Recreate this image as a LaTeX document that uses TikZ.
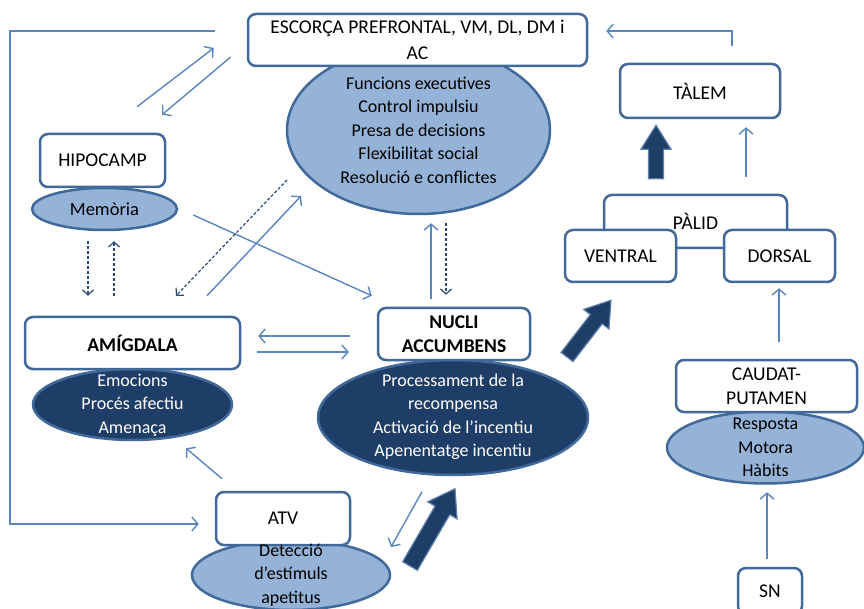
\documentclass[tikz,border=0pt]{standalone}
\usepackage{fontspec}
\setmainfont{Carlito}
\usetikzlibrary{shapes.geometric,arrows.meta,calc}
\definecolor{linec}{HTML}{5A86BF}
\definecolor{bordc}{HTML}{41699A}
\definecolor{lightc}{HTML}{95B3D7}
\definecolor{darkc}{HTML}{1F3E67}
\definecolor{dashc}{HTML}{2B4A78}
\newcommand\blockarr[5]{%
  \coordinate (bah) at ($(#2)!#5!(#1)$);
  \filldraw[fill=darkc, draw=bordc!85!white, line width=1.2pt, line join=miter]
    ($(#1)!#3!90:(#2)$) -- ($(bah)!#3!-90:(#1)$) -- ($(bah)!#4!-90:(#1)$) -- (#2)
    -- ($(bah)!#4!90:(#1)$) -- ($(bah)!#3!90:(#1)$) -- ($(#1)!#3!-90:(#2)$) -- cycle;}
\begin{document}
\begin{tikzpicture}[x=1pt,y=-1pt,
  font=\fontsize{18}{23.5}\selectfont,
  box/.style={draw=bordc, line width=2.5pt, fill=white, rounded corners=8pt, inner sep=0pt, align=center, font=\fontsize{19.5}{24}\selectfont},
  bbox/.style={box, font=\fontsize{19.5}{24}\selectfont\bfseries},
  lell/.style={ellipse, draw=bordc, line width=2.5pt, fill=lightc, inner sep=0pt},
  dell/.style={ellipse, draw=bordc, line width=2.5pt, fill=darkc, inner sep=0pt},
  ltxt/.style={align=center, inner sep=0pt, text=black},
  dtxt/.style={align=center, inner sep=0pt, text=white},
  arr/.style={draw=linec, line width=1.4pt, -{Straight Barb[length=6pt,width=14pt]}},
  darr/.style={draw=dashc, line width=1.2pt, dash pattern=on 3pt off 2pt, -{Straight Barb[length=5pt,width=11pt]}}]
\fill[white] (0,0) rectangle (864,609);
\useasboundingbox (0,0) rectangle (864,609);

% ellipses
\node[lell, minimum width=263pt, minimum height=168pt] (pfce) at (418.5,130) {};
\node[lell, minimum width=145pt, minimum height=42pt, font=\fontsize{18.5}{23.5}\selectfont] (mem) at (104.5,209) {Memòria};
\node[dell, minimum width=199pt, minimum height=71pt] (amge) at (132.5,404.5) {};
\node[dell, minimum width=270pt, minimum height=115pt] (nace) at (453,417.5) {};
\node[lell, minimum width=198pt, minimum height=70pt] (atve) at (291,575) {};
\node[lell, minimum width=197pt, minimum height=72pt] (cpe) at (765.5,447.5) {};

% boxes
\node[box, minimum width=339pt, minimum height=52pt, font=\fontsize{19.5}{26}\selectfont] (esc) at (417.5,40) {ESCORÇA PREFRONTAL, VM, DL, DM i\\AC};
\node[box, minimum width=160pt, minimum height=54pt] (talem) at (700,91) {TÀLEM};
\node[box, minimum width=183pt, minimum height=53pt] (pal) at (695.5,221.5) {PÀLID};
\node[box, minimum width=111pt, minimum height=52pt] (ven) at (620.5,256) {VENTRAL};
\node[box, minimum width=111pt, minimum height=52pt] (dors) at (779.5,256) {DORSAL};
\node[box, minimum width=181pt, minimum height=52pt] (caud) at (766.5,386) {CAUDAT-\\PUTAMEN};
\node[box, minimum width=64pt, minimum height=46pt] (sn) at (770,591) {SN};
\node[box, minimum width=125pt, minimum height=53pt] (hip) at (102.5,160.5) {HIPOCAMP};
\node[bbox, minimum width=215pt, minimum height=52pt] (amg) at (132.5,343) {AMÍGDALA};
\node[bbox, minimum width=152pt, minimum height=52pt] (nac) at (454,334) {NUCLI\\ACCUMBENS};
\node[box, minimum width=134pt, minimum height=53pt] (atv) at (283,518.5) {ATV};

% ellipse texts
\node[ltxt] (pfct) at (418.5,130) {Funcions executives\\Control impulsiu\\Presa de decisions\\Flexibilitat social\\Resolució e conflictes};
\node[dtxt] (amgt) at (132.5,405) {Emocions\\Procés afectiu\\Amenaça};
\node[dtxt] (nact) at (453,417) {Processament de la\\recompensa\\Activació de l’incentiu\\Apenentatge incentiu};
\node[ltxt] (atvt) at (291,575) {Detecció\\d’estímuls\\apetitus};
\node[ltxt] (cpt) at (765.5,447.5) {Resposta\\Motora\\Hàbits};

% connectors
\coordinate (lx) at (10,300);
\draw[arr] ([xshift=-32pt,yshift=9pt]esc.west) -| (lx) |- ([xshift=-16pt,yshift=-5.5pt]atv.west);
\draw[arr] ([xshift=32pt,yshift=17pt]talem.north) |- ([xshift=18pt,yshift=9pt]esc.east);
\draw[arr] ([xshift=50.5pt,yshift=17pt]pal.north) -- ([xshift=46pt,yshift=-8pt]talem.south);
\draw[arr] ([xshift=12.5pt,yshift=17pt]caud.north) -- ([xshift=-0.5pt,yshift=-5pt]dors.south);
\draw[arr] ([xshift=-3pt,yshift=8pt]sn.north) -- ([xshift=1.5pt,yshift=-7.5pt]cpe.south);

\draw[arr] ([xshift=34.5pt,yshift=26pt]hip.north) -- ([xshift=-33pt,yshift=-8pt]esc.west);
\draw[arr] ([xshift=-16pt,yshift=-17pt]esc.west) -- ([xshift=59.5pt,yshift=18pt]hip.north);
\draw[arr] ([xshift=15pt,yshift=-6pt]mem.east) -- ([xshift=-5pt,yshift=11pt]nac.north west);

\draw[darr] ([xshift=-16.5pt,yshift=-10pt]mem.south) -- ([xshift=-44.5pt,yshift=20pt]amg.north);
\draw[darr] ([xshift=-18.5pt,yshift=20pt]amg.north) -- ([xshift=9.5pt,yshift=-10pt]mem.south);

\draw[darr] ([xshift=-131.5pt,yshift=-50pt]pfce.center) -- ([xshift=43.5pt,yshift=20pt]amg.north);
\draw[arr] ([xshift=74.5pt,yshift=20pt]amg.north) -- ([xshift=-117.5pt,yshift=-66pt]pfce.center);

\draw[arr] ([xshift=-23pt,yshift=8pt]nac.north) -- ([xshift=12.5pt,yshift=-8pt]pfce.south);
\draw[darr] ([xshift=27.5pt,yshift=-8pt]pfce.south) -- ([xshift=-8pt,yshift=12pt]nac.north);

\draw[arr] ([xshift=-27pt,yshift=-2pt]nac.west) -- ([xshift=17pt,yshift=7pt]amg.east);
\draw[arr] ([xshift=16pt,yshift=-9pt]amg.east) -- ([xshift=-28pt,yshift=-18pt]nac.west);

\draw[arr] ([xshift=-61pt,yshift=12pt]atv.north) -- ([xshift=53.5pt,yshift=-7pt]amge.south);
\draw[arr] ([xshift=-31pt,yshift=-15.5pt]nace.south) -- ([xshift=100pt,yshift=28pt]atve.center);

% block arrows
\coordinate (ta1) at ([xshift=-39.5pt,yshift=15pt]pal.north);
\coordinate (ta2) at ([xshift=-44pt,yshift=-6pt]talem.south);
\blockarr{ta1}{ta2}{7.5pt}{15pt}{24pt}
\coordinate (ba1) at ([xshift=119pt,yshift=9pt]atve.center);
\coordinate (ba2) at ([xshift=2pt,yshift=-12.5pt]nace.south);
\blockarr{ba1}{ba2}{8.5pt}{17pt}{25pt}
\coordinate (bb1) at ([xshift=114pt,yshift=60.5pt]nace.center);
\coordinate (bb2) at ([xshift=-9.5pt,yshift=-17pt]ven.south);
\blockarr{bb1}{bb2}{7.5pt}{16pt}{24pt}
\end{tikzpicture}
\end{document}
